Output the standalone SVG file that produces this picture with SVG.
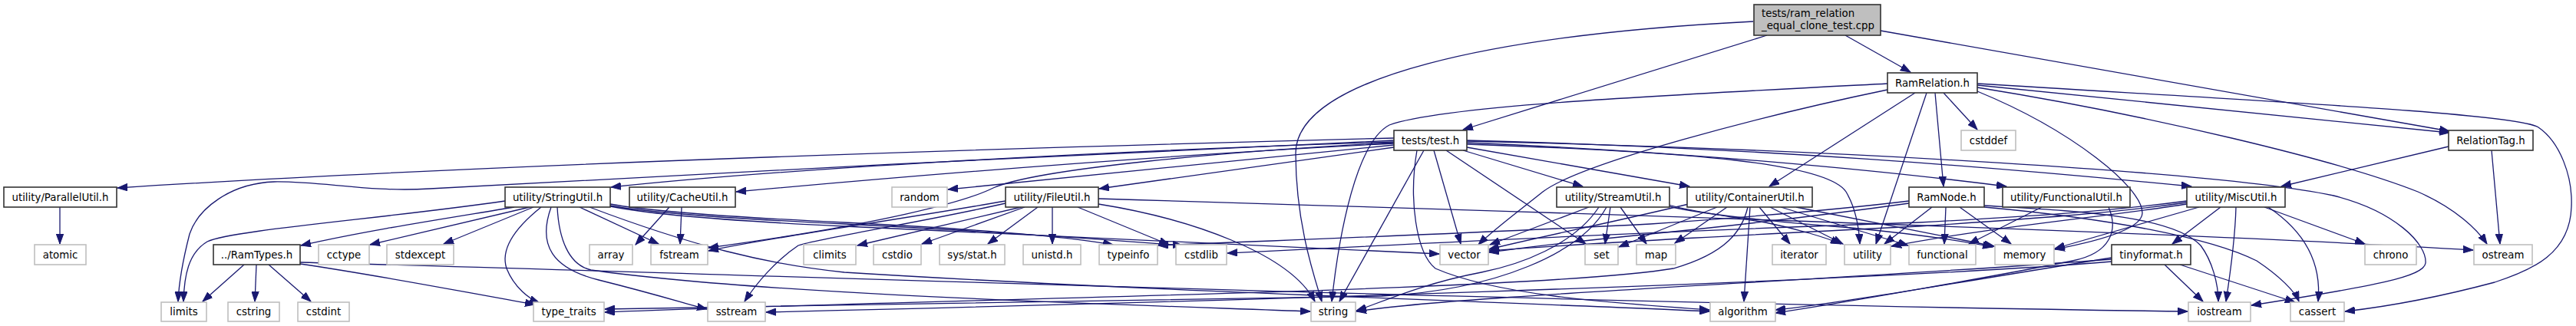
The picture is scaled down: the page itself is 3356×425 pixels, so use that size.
<svg xmlns="http://www.w3.org/2000/svg" width="3356" height="425" viewBox="0 0 3356 425">
<style>
.e{fill:none;stroke:#191970;stroke-width:1.3;marker-end:url(#a)}
.n rect{fill:#fff;stroke:#333;stroke-width:1.6}
.s rect{fill:#fff;stroke:#bfbfbf;stroke-width:1.6}
.r rect{fill:#bfbfbf;stroke:#333;stroke-width:1.6}
text{font-family:"DejaVu Sans","Liberation Sans",sans-serif;font-size:13.33px;fill:#000;text-anchor:middle}
.r text{text-anchor:start}
</style>
<defs>
<marker id="a" markerUnits="userSpaceOnUse" markerWidth="14" markerHeight="10" refX="13" refY="5" orient="auto">
<path d="M0,0.3 L13,5 L0,9.7 z" fill="#191970" stroke="#191970" stroke-width="1"/>
</marker>
</defs>
<rect width="3356" height="425" fill="#fff"/>
<g id="edges">
<path class="e" d="M2302,46 L1906,169"/>
<path class="e" d="M2284,28 C1950,45 1688,100 1688,200 C1688,290 1712,360 1722,393"/>
<path class="e" d="M2404,46 L2489,94"/>
<path class="e" d="M2450,40 L3191,171"/>
<path class="e" d="M2459,109 C2150,125 1880,138 1810,163 C1768,185 1745,300 1735,393"/>
<path class="e" d="M2459,117 C2300,150 2060,212 2010,250 C1975,278 1945,300 1926,319"/>
<path class="e" d="M2495,121 L2305,243"/>
<path class="e" d="M2510,121 L2444,318"/>
<path class="e" d="M2521,121 L2532,243"/>
<path class="e" d="M2532,121 L2576,169"/>
<path class="e" d="M2576,119 C2700,170 2792,245 2791,278 C2790,300 2730,315 2677,325"/>
<path class="e" d="M2576,111 L3191,173"/>
<path class="e" d="M2576,114 C2800,150 3050,210 3150,250 C3200,272 3228,300 3240,318"/>
<path class="e" d="M2576,109 C2950,132 3280,148 3307,166 C3335,185 3352,230 3350,270 C3348,330 3300,352 3250,368 C3160,392 3090,402 3055,406"/>
<path class="e" d="M3190,191 L2972,243"/>
<path class="e" d="M3246,196 L3257,318"/>
<path class="e" d="M1816,180 C1500,188 700,210 153,245"/>
<path class="e" d="M1816,183 C1500,195 900,228 560,246 C480,251 420,236 357,237 C300,239 258,272 247,305 C238,340 233,370 232,393"/>
<path class="e" d="M1816,185 C1400,198 1000,222 796,244"/>
<path class="e" d="M1816,187 C1500,203 1200,228 959,250"/>
<path class="e" d="M1816,189 L1235,247"/>
<path class="e" d="M1816,192 L1432,246"/>
<path class="e" d="M1816,186 C1600,197 1350,220 1294,245 C1258,263 1150,292 923,323"/>
<path class="e" d="M1855,196 L1745,393"/>
<path class="e" d="M1868,196 L1903,318"/>
<path class="e" d="M1884,196 L2066,318"/>
<path class="e" d="M1906,196 L2062,243"/>
<path class="e" d="M1911,192 L2201,243"/>
<path class="e" d="M1911,186 C2200,198 2450,222 2614,243"/>
<path class="e" d="M1911,183 C2300,193 2600,218 2855,243"/>
<path class="e" d="M1911,188 C2200,198 2380,212 2405,250 C2418,272 2422,300 2423,318"/>
<path class="e" d="M1911,184 C2400,195 2900,225 3040,255 C3120,275 3162,318 3160,343 C3158,360 3100,372 2933,398"/>
<path class="e" d="M1846,196 C1835,260 1845,330 1870,350 C1950,385 2100,395 2227,404"/>
<path class="e" d="M78,270 L78,318"/>
<path class="e" d="M658,262 C500,285 300,300 270,315 C245,330 240,360 239,393"/>
<path class="e" d="M670,270 C580,285 480,300 392,320"/>
<path class="e" d="M690,270 L482,319"/>
<path class="e" d="M695,270 L578,318"/>
<path class="e" d="M705,270 C680,290 650,320 660,350 C670,375 690,390 703,395"/>
<path class="e" d="M718,270 C700,320 720,350 780,365 C860,385 900,398 921,403"/>
<path class="e" d="M726,270 C728,310 740,345 770,352 C1000,385 1500,398 1707,406"/>
<path class="e" d="M768,270 C900,320 1000,345 1100,355 C1500,380 2000,395 2227,406"/>
<path class="e" d="M755,270 L858,318"/>
<path class="e" d="M795,266 C850,276 950,283 1100,290 C1300,300 1400,310 1450,319"/>
<path class="e" d="M795,268 C850,278 950,285 1100,292 C1300,302 1450,313 1541,320"/>
<path class="e" d="M795,269 C850,280 950,288 1100,295 C1500,312 1700,322 1875,331"/>
<path class="e" d="M872,270 L828,319"/>
<path class="e" d="M888,270 L886,318"/>
<path class="e" d="M318,345 L264,393"/>
<path class="e" d="M334,345 L332,393"/>
<path class="e" d="M350,345 L405,393"/>
<path class="e" d="M391,344 C500,360 600,380 697,397"/>
<path class="e" d="M391,342 C900,355 2000,395 2850,406"/>
<path class="e" d="M1310,262 C1150,290 1000,310 923,327"/>
<path class="e" d="M1310,265 C1200,290 1070,310 1040,320 C1010,340 985,370 970,393"/>
<path class="e" d="M1330,270 L1117,320"/>
<path class="e" d="M1335,270 L1201,318"/>
<path class="e" d="M1352,270 L1287,318"/>
<path class="e" d="M1371,270 L1371,318"/>
<path class="e" d="M1404,270 L1523,319"/>
<path class="e" d="M1431,259 C1800,270 2800,300 3222,326"/>
<path class="e" d="M1431,266 C1550,285 1680,330 1713,393"/>
<path class="e" d="M2070,270 L1941,319"/>
<path class="e" d="M2083,270 C2050,320 1980,345 1930,355 C1850,370 1790,398 1767,405"/>
<path class="e" d="M2093,270 C2060,330 1950,378 1800,386 C1400,394 1000,398 788,403"/>
<path class="e" d="M2098,270 L2091,318"/>
<path class="e" d="M2111,270 L2145,318"/>
<path class="e" d="M2174,267 C2200,275 2250,282 2300,290 C2340,298 2380,310 2398,318"/>
<path class="e" d="M2174,269 C2220,280 2300,288 2400,296 C2500,305 2560,315 2596,322"/>
<path class="e" d="M2200,266 C2100,290 2000,310 1940,325"/>
<path class="e" d="M2237,270 L2109,322"/>
<path class="e" d="M2250,270 L2182,317"/>
<path class="e" d="M2277,270 C2270,300 2250,330 2180,350 C2000,380 1200,390 788,407"/>
<path class="e" d="M2280,270 L2272,393"/>
<path class="e" d="M2292,270 L2332,318"/>
<path class="e" d="M2306,270 L2401,318"/>
<path class="e" d="M2320,270 L2486,320"/>
<path class="e" d="M2340,270 L2598,321"/>
<path class="e" d="M2487,262 C2380,275 2250,285 2150,292 C1900,305 1700,312 1509,320"/>
<path class="e" d="M2487,265 C2380,280 2250,295 2150,305 C2050,315 1990,322 1940,329"/>
<path class="e" d="M2517,270 L2455,318"/>
<path class="e" d="M2535,270 L2533,318"/>
<path class="e" d="M2553,270 L2620,318"/>
<path class="e" d="M2585,268 C2700,275 2830,280 2867,320 C2882,340 2890,370 2890,393"/>
<path class="e" d="M2585,270 C2750,285 2880,310 2940,340 C2970,360 2990,380 2995,393"/>
<path class="e" d="M2660,270 L2565,318"/>
<path class="e" d="M2747,270 C2760,300 2750,330 2700,340 C2600,360 2400,395 2313,408"/>
<path class="e" d="M2849,262 C2750,275 2650,282 2500,290 C2200,300 1900,315 1599,330"/>
<path class="e" d="M2849,264 C2750,278 2650,285 2500,295 C2300,305 2100,315 1940,327"/>
<path class="e" d="M2849,266 C2750,282 2600,295 2464,321"/>
<path class="e" d="M2865,270 L2677,324"/>
<path class="e" d="M2893,270 L2830,318"/>
<path class="e" d="M2913,270 C2912,310 2905,360 2900,393"/>
<path class="e" d="M2950,270 L3081,318"/>
<path class="e" d="M2955,270 C3000,300 3025,340 3020,393"/>
<path class="e" d="M2751,336 C2600,360 2400,395 2313,404"/>
<path class="e" d="M2751,338 C2400,365 1900,385 1767,406"/>
<path class="e" d="M2751,341 C2400,370 1500,395 998,407"/>
<path class="e" d="M2820,345 L2870,393"/>
<path class="e" d="M2840,345 L2990,394"/>
</g>
<g id="n_root" class="r"><rect x="2285" y="6" width="165" height="40"/><text x="2295" y="22">tests/ram_relation</text><text x="2295" y="38">_equal_clone_test.cpp</text></g>
<g id="n_ramrelation" class="n"><rect x="2459" y="95" width="117" height="26"/><text x="2517.5" y="112.7">RamRelation.h</text></g>
<g id="n_test" class="n"><rect x="1816" y="170" width="95" height="26"/><text x="1863.5" y="187.7">tests/test.h</text></g>
<g id="n_cstddef" class="s"><rect x="2555" y="170" width="71" height="26"/><text x="2590.5" y="187.7">cstddef</text></g>
<g id="n_relationtag" class="n"><rect x="3190" y="170" width="110" height="26"/><text x="3245" y="187.7">RelationTag.h</text></g>
<g id="n_parallelutil" class="n"><rect x="5" y="244" width="147" height="26"/><text x="78.5" y="261.7">utility/ParallelUtil.h</text></g>
<g id="n_stringutil" class="n"><rect x="658" y="244" width="137" height="26"/><text x="726.5" y="261.7">utility/StringUtil.h</text></g>
<g id="n_cacheutil" class="n"><rect x="820" y="244" width="138" height="26"/><text x="889" y="261.7">utility/CacheUtil.h</text></g>
<g id="n_random" class="s"><rect x="1162" y="244" width="72" height="26"/><text x="1198" y="261.7">random</text></g>
<g id="n_fileutil" class="n"><rect x="1310" y="244" width="121" height="26"/><text x="1370.5" y="261.7">utility/FileUtil.h</text></g>
<g id="n_streamutil" class="n"><rect x="2028" y="244" width="147" height="26"/><text x="2101.5" y="261.7">utility/StreamUtil.h</text></g>
<g id="n_containerutil" class="n"><rect x="2198" y="244" width="163" height="26"/><text x="2279.5" y="261.7">utility/ContainerUtil.h</text></g>
<g id="n_ramnode" class="n"><rect x="2487" y="244" width="98" height="26"/><text x="2536" y="261.7">RamNode.h</text></g>
<g id="n_functionalutil" class="n"><rect x="2609" y="244" width="166" height="26"/><text x="2692" y="261.7">utility/FunctionalUtil.h</text></g>
<g id="n_miscutil" class="n"><rect x="2849" y="244" width="128" height="26"/><text x="2913" y="261.7">utility/MiscUtil.h</text></g>
<g id="n_atomic" class="s"><rect x="45" y="319" width="67" height="26"/><text x="78.5" y="336.7">atomic</text></g>
<g id="n_ramtypes" class="n"><rect x="278" y="319" width="113" height="26"/><text x="334.5" y="336.7">../RamTypes.h</text></g>
<g id="n_cctype" class="s"><rect x="415" y="319" width="66" height="26"/><text x="448" y="336.7">cctype</text></g>
<g id="n_stdexcept" class="s"><rect x="504" y="319" width="87" height="26"/><text x="547.5" y="336.7">stdexcept</text></g>
<g id="n_array" class="s"><rect x="768" y="319" width="56" height="26"/><text x="796" y="336.7">array</text></g>
<g id="n_fstream" class="s"><rect x="848" y="319" width="74" height="26"/><text x="885" y="336.7">fstream</text></g>
<g id="n_climits" class="s"><rect x="1047" y="319" width="68" height="26"/><text x="1081" y="336.7">climits</text></g>
<g id="n_cstdio" class="s"><rect x="1138" y="319" width="62" height="26"/><text x="1169" y="336.7">cstdio</text></g>
<g id="n_sysstat" class="s"><rect x="1224" y="319" width="85" height="26"/><text x="1266.5" y="336.7">sys/stat.h</text></g>
<g id="n_unistd" class="s"><rect x="1333" y="319" width="75" height="26"/><text x="1370.5" y="336.7">unistd.h</text></g>
<g id="n_typeinfo" class="s"><rect x="1432" y="319" width="76" height="26"/><text x="1470" y="336.7">typeinfo</text></g>
<g id="n_cstdlib" class="s"><rect x="1532" y="319" width="66" height="26"/><text x="1565" y="336.7">cstdlib</text></g>
<g id="n_vector" class="s"><rect x="1876" y="319" width="63" height="26"/><text x="1907.5" y="336.7">vector</text></g>
<g id="n_set" class="s"><rect x="2065" y="319" width="43" height="26"/><text x="2086.5" y="336.7">set</text></g>
<g id="n_map" class="s"><rect x="2132" y="319" width="51" height="26"/><text x="2157.5" y="336.7">map</text></g>
<g id="n_iterator" class="s"><rect x="2309" y="319" width="70" height="26"/><text x="2344" y="336.7">iterator</text></g>
<g id="n_utility" class="s"><rect x="2403" y="319" width="60" height="26"/><text x="2433" y="336.7">utility</text></g>
<g id="n_functional" class="s"><rect x="2487" y="319" width="87" height="26"/><text x="2530.5" y="336.7">functional</text></g>
<g id="n_memory" class="s"><rect x="2599" y="319" width="77" height="26"/><text x="2637.5" y="336.7">memory</text></g>
<g id="n_tinyformat" class="n"><rect x="2751" y="319" width="103" height="26"/><text x="2802.5" y="336.7">tinyformat.h</text></g>
<g id="n_chrono" class="s"><rect x="3081" y="319" width="67" height="26"/><text x="3114.5" y="336.7">chrono</text></g>
<g id="n_ostream" class="s"><rect x="3223" y="319" width="76" height="26"/><text x="3261" y="336.7">ostream</text></g>
<g id="n_limits" class="s"><rect x="210" y="394" width="59" height="25"/><text x="239.5" y="411.2">limits</text></g>
<g id="n_cstring" class="s"><rect x="297" y="394" width="67" height="25"/><text x="330.5" y="411.2">cstring</text></g>
<g id="n_cstdint" class="s"><rect x="388" y="394" width="67" height="25"/><text x="421.5" y="411.2">cstdint</text></g>
<g id="n_typetraits" class="s"><rect x="695" y="394" width="92" height="25"/><text x="741" y="411.2">type_traits</text></g>
<g id="n_sstream" class="s"><rect x="922" y="394" width="75" height="25"/><text x="959.5" y="411.2">sstream</text></g>
<g id="n_string" class="s"><rect x="1708" y="394" width="58" height="25"/><text x="1737" y="411.2">string</text></g>
<g id="n_algorithm" class="s"><rect x="2228" y="394" width="85" height="25"/><text x="2270.5" y="411.2">algorithm</text></g>
<g id="n_iostream" class="s"><rect x="2851" y="394" width="81" height="25"/><text x="2891.5" y="411.2">iostream</text></g>
<g id="n_cassert" class="s"><rect x="2984" y="394" width="70" height="25"/><text x="3019" y="411.2">cassert</text></g>
</svg>
